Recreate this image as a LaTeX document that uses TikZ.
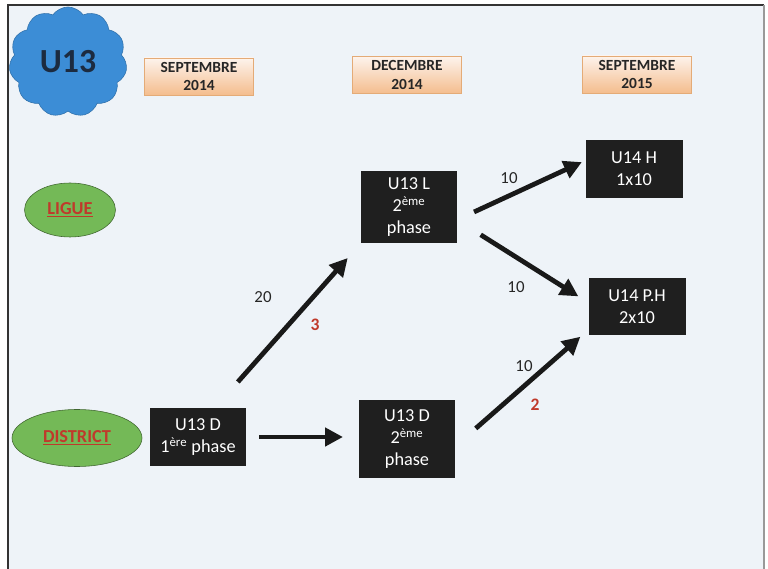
\documentclass[tikz,border=0pt]{standalone}
\usepackage{fontspec}
\setmainfont{Carlito}
\usetikzlibrary{shapes.geometric,shapes.symbols,arrows.meta}
\definecolor{pagebg}{HTML}{EEF3F8}
\definecolor{cloudblue}{HTML}{3C8DD6}
\definecolor{cloudtext}{HTML}{1C2B40}
\definecolor{leafgreen}{HTML}{74B957}
\definecolor{darkred}{HTML}{C0392B}
\definecolor{peachtop}{HTML}{FDF3EC}
\definecolor{peachbot}{HTML}{F4BD8E}
\definecolor{boxblack}{HTML}{1F1F1F}
\begin{document}
\begin{tikzpicture}[
    period/.style={rectangle, draw=peachbot!70!brown, thin, top color=peachtop,
      bottom color=peachbot, minimum width=2.72cm, minimum height=0.92cm,
      align=center, inner sep=0pt, text=black!85,
      font=\bfseries\fontsize{11}{13}\selectfont},
    level/.style={ellipse, draw=leafgreen!55!black, fill=leafgreen, inner sep=0pt,
      text=darkred, font=\bfseries\fontsize{13}{15}\selectfont},
    team/.style={rectangle, fill=boxblack, text=white, minimum width=2.4cm,
      align=center, inner sep=0pt, outer sep=0pt,
      font=\fontsize{13}{15.6}\selectfont},
    flow/.style={line width=3.4pt, draw=black!90,
      -{Triangle[length=0.45cm,width=0.45cm]}},
    count/.style={text=black!85, font=\fontsize{12}{14}\selectfont},
    quota/.style={text=darkred, font=\bfseries\fontsize{12.5}{14}\selectfont}
  ]
    \useasboundingbox (0, 0) rectangle (19.2, 14.2);
    % page and frame
    \fill[white] (0, 0) rectangle (19.2, 14.2);
    \fill[pagebg] (0.2, -0.2) rectangle (19.1, 14.075);
    \draw[line width=1.2pt, black!80] (0.2, -0.2) -- (0.2, 14.075) -- (19.1, 14.075);
    \draw[line width=1.2pt, black!40] (19.1, 14.075) -- (19.1, -0.2);

    \node[cloud, cloud puffs=11, cloud puff arc=110, aspect=1.05, fill=cloudblue,
      draw=cloudblue!80!black, minimum width=2.95cm, minimum height=2.75cm,
      inner sep=0pt, text=cloudtext, font=\bfseries\fontsize{24}{28}\selectfont]
      (u13) at (1.7, 12.65) {U13};

    % dates
    \node[period] (sep14) at (4.975, 12.29) {SEPTEMBRE\\2014};
    \node[period] (dec14) at (10.175, 12.325) {DECEMBRE\\2014};
    \node[period] (sep15) at (15.925, 12.34) {SEPTEMBRE\\2015};

    % levels
    \node[level, minimum width=2.275cm, minimum height=1.35cm] (ligue)
      at (1.75, 8.95) {\underline{LIGUE}};
    \node[level, minimum width=3.25cm, minimum height=1.425cm] (district)
      at (1.925, 3.25) {\underline{DISTRICT}};

    % teams
    \node[team, minimum height=1.45cm] (d1) at (4.95, 3.275)
      {U13 D\\1\textsuperscript{ère} phase};
    \node[team, minimum height=1.8cm] (l2) at (10.225, 9.025)
      {U13 L\\2\textsuperscript{ème}\\phase};
    \node[team, minimum height=1.95cm] (d2) at (10.175, 3.225)
      {U13 D\\2\textsuperscript{ème}\\phase};
    \node[team, minimum width=2.425cm, minimum height=1.45cm] (h) at (15.85, 9.975)
      {U14 H\\1x10};
    \node[team, minimum width=2.425cm, minimum height=1.425cm] (ph) at (15.925, 6.525)
      {U14 P.H\\2x10};

    % moves
    \draw[flow, shorten <=0.87cm, shorten >=0.5cm] (d1.60) -- (l2.south west);
    \draw[flow, shorten <=0.33cm, shorten >=0.4cm] (d1.east) -- (d1.east -| d2.west);
    \draw[flow, shorten <=0.47cm, shorten >=0.1cm] (l2.345) -- (h.170);
    \draw[flow, shorten <=0.7cm, shorten >=0.3cm] (l2.345) -- (ph.175);
    \draw[flow, shorten <=0.69cm, shorten >=0.27cm] (d2.351) -- (ph.205);

    \node[count] (n20) at (6.575, 6.775) {20};
    \node[quota] (q3) at (7.875, 6.075) {3};
    \node[count] (n10a) at (12.725, 9.75) {10};
    \node[count] (n10b) at (12.9, 7.025) {10};
    \node[count] (n10c) at (13.1, 5.05) {10};
    \node[quota] (q2) at (13.375, 4.075) {2};
\end{tikzpicture}
\end{document}
